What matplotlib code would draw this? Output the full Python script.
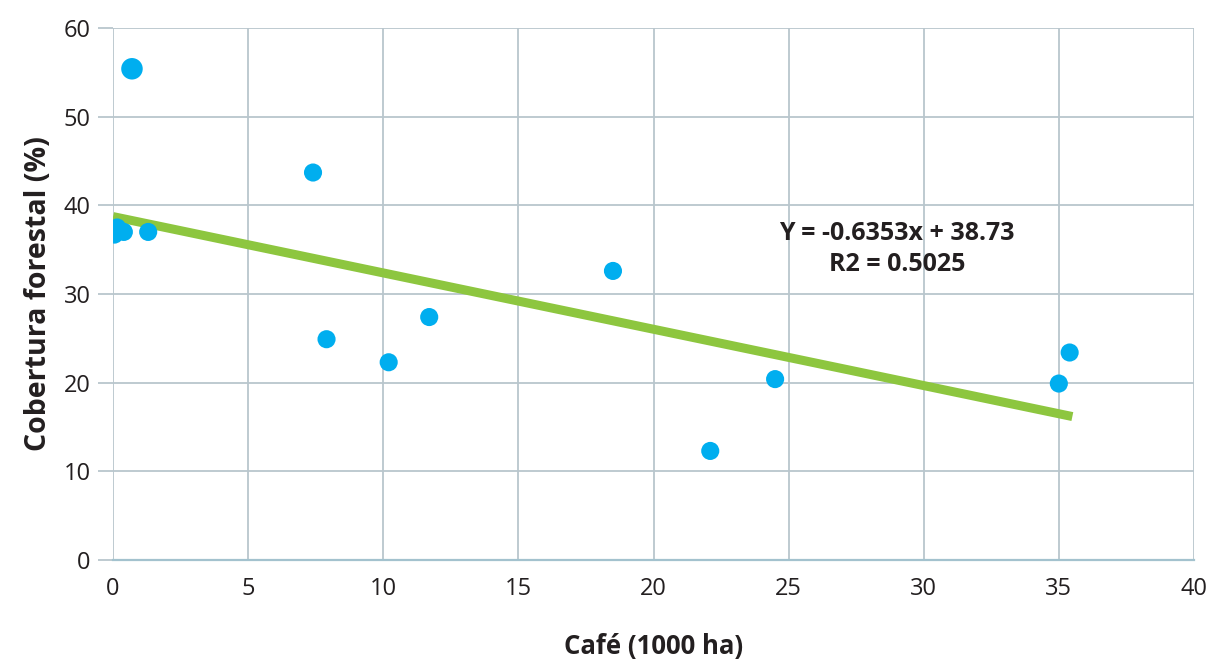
import matplotlib.pyplot as plt
import numpy as np

# Café area (1000 ha) vs forest cover (%)
cafe = [0.7, 0.05, 0.15, 0.4, 1.3, 7.4, 7.9, 10.2, 11.7, 18.5, 22.1, 24.5, 35.0, 35.4]
cobertura = [55.4, 36.7, 37.5, 37.0, 37.0, 43.7, 24.9, 22.3, 27.4, 32.6, 12.3, 20.4, 19.9, 23.4]
slope = -0.6353
intercept = 38.73
x_ticks = [0, 5, 10, 15, 20, 25, 30, 35, 40]
y_ticks = [0, 10, 20, 30, 40, 50, 60]

plt.rcParams['font.family'] = ['Open Sans', 'DejaVu Sans']

fig = plt.figure(figsize=(12.13, 6.62), dpi=100)
ax = fig.add_axes([0.0932, 0.1541, 0.8911, 0.8036])

grid_col = '#b9c6cd'
ax.set_xlim(0, 40)
ax.set_ylim(0, 60)
ax.set_xticks(x_ticks)
ax.set_yticks(y_ticks)
ax.grid(True, color=grid_col, linewidth=1.3)
ax.set_axisbelow(True)
for s in ['top', 'right', 'left']:
    ax.spines[s].set_visible(False)
ax.spines['bottom'].set_color('#a3c2ce')
ax.spines['bottom'].set_linewidth(1.6)
ax.tick_params(axis='y', length=11, color=grid_col, width=1.3, labelsize=17, labelcolor='#231f20', pad=5)
ax.tick_params(axis='x', length=0, labelsize=17, labelcolor='#231f20', pad=12)

xs = np.array([0, 35.5])
ax.plot(xs, intercept + slope * xs, color='#8dc63f', linewidth=6.5, solid_capstyle='butt', zorder=2)

sizes = [240] + [170] * (len(cafe) - 1)
ax.scatter(cafe, cobertura, s=sizes, color='#00aeef', edgecolors='none', zorder=3)

ax.text(29.0, 35.1, 'Y = -0.6353x + 38.73\nR2 = 0.5025', ha='center', va='center',
        fontsize=18, fontweight='bold', color='#231f20', linespacing=1.3)

ax.set_xlabel('Café (1000 ha)', fontsize=18.5, fontweight='bold', color='#231f20', labelpad=23)
ax.set_ylabel('Cobertura forestal (%)', fontsize=20.5, fontweight='bold', color='#231f20', labelpad=8)

plt.savefig('out.png', dpi=100)
